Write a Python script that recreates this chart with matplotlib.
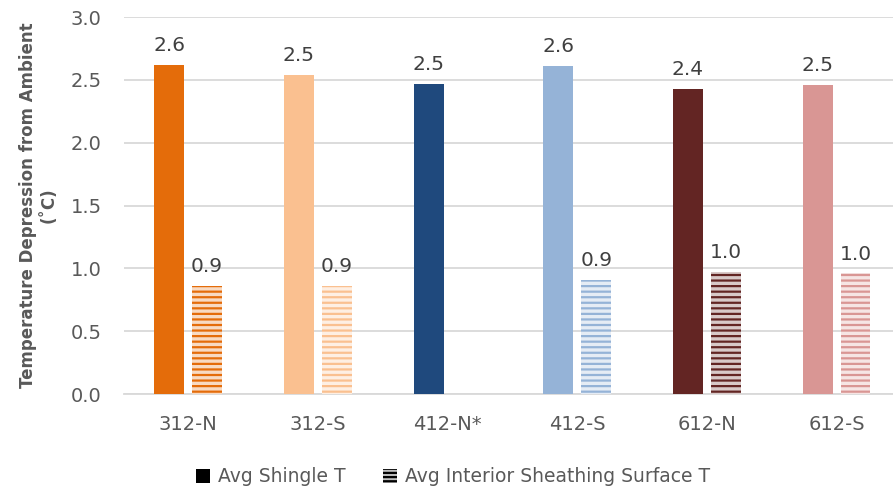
import matplotlib.pyplot as plt
import matplotlib.colors as mcolors
from matplotlib.patches import Patch
import numpy as np

plt.rcParams['font.family'] = ['DejaVu Sans']
plt.rcParams['hatch.linewidth'] = 1.6

# data
sites = ['312-N', '312-S', '412-N*', '412-S', '612-N', '612-S']
shingle = [2.62, 2.54, 2.47, 2.61, 2.43, 2.46]
sheathing = [0.86, 0.86, np.nan, 0.91, 0.97, 0.96]
colors = ['#E46C0A', '#FAC090', '#1F497D', '#95B3D7', '#632523', '#D99694']


def tint(c, amt):
    r, g, b = mcolors.to_rgb(c)
    return (r + (1 - r) * amt, g + (1 - g) * amt, b + (1 - b) * amt)


fig = plt.figure(figsize=(8.93, 4.93), dpi=100)
ax = fig.add_axes([124 / 893, 1 - 394 / 493, (893 - 124) / 893, (394 - 17) / 493])

x = np.arange(len(sites))
w = 0.23
off = 0.146
grey = '#595959'

for i in range(len(sites)):
    b = ax.bar(x[i] - off, shingle[i], w, color=colors[i], linewidth=0, zorder=3)
    ax.bar_label(b, fmt='%.1f', padding=7, fontsize=14.5, color='#404040')
    if not np.isnan(sheathing[i]):
        h = ax.bar(x[i] + off, sheathing[i], w, facecolor=tint(colors[i], 0.75),
                   edgecolor=colors[i], hatch='---', linewidth=0, zorder=3)
        ax.bar_label(h, fmt='%.1f', padding=7, fontsize=14.5, color='#404040')

ax.set_xlim(-0.495, 5.435)
ax.set_ylim(0, 3.0)
ax.set_yticks(np.arange(0, 3.01, 0.5))
ax.set_yticklabels(['%.1f' % v for v in np.arange(0, 3.01, 0.5)])
ax.set_xticks(x)
ax.set_xticklabels(sites)
ax.tick_params(axis='both', length=0, labelsize=14, labelcolor=grey)
ax.tick_params(axis='y', pad=16)
ax.tick_params(axis='x', pad=15)
ax.grid(axis='y', color='#D9D9D9', linewidth=1.3, zorder=0)
ax.set_axisbelow(True)
for s in ['top', 'right', 'left']:
    ax.spines[s].set_visible(False)
ax.spines['bottom'].set_color('#D9D9D9')
ax.spines['bottom'].set_linewidth(1.3)

fig.text(38 / 893, 1 - 205 / 493, 'Temperature Depression from Ambient\n(˚C)',
         rotation=90, ha='center', va='center', multialignment='center',
         fontsize=12, fontweight='bold', color=grey)

handles = [Patch(facecolor='black', linewidth=0),
           Patch(facecolor='#BFBFBF', edgecolor='black', hatch='----', linewidth=0)]
fig.legend(handles, ['Avg Shingle T', 'Avg Interior Sheathing Surface T'],
           loc='center', bbox_to_anchor=(453 / 893, 1 - 477 / 493), ncol=2,
           frameon=False, fontsize=13.5, labelcolor=grey, handlelength=0.75,
           handleheight=0.75, handletextpad=0.4, columnspacing=2.0)

fig.savefig('out.png', dpi=100)
